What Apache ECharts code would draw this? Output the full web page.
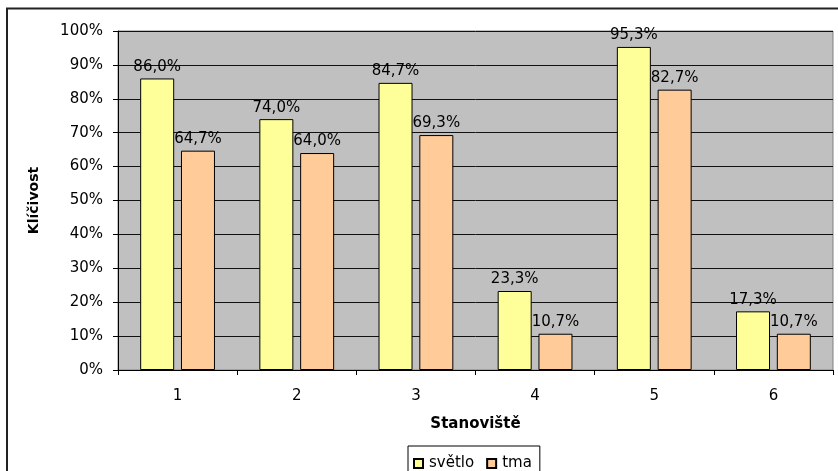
<!DOCTYPE html>
<html>
<head>
<meta charset="utf-8">
<script src="https://cdn.jsdelivr.net/npm/echarts@6/dist/echarts.min.js"></script>
<style>
  html, body { margin: 0; padding: 0; background: #fff; }
  #chart { width: 838px; height: 471px; }
</style>
</head>
<body>
<div id="chart"></div>
<script>
// Germination (Klíčivost) per site, light vs. dark treatment
const sites = ['1', '2', '3', '4', '5', '6'];
const svetlo = [86.0, 74.0, 84.7, 23.3, 95.3, 17.3];
const tma = [64.7, 64.0, 69.3, 10.7, 82.7, 10.7];
const yTicks = [0, 10, 20, 30, 40, 50, 60, 70, 80, 90, 100];

const FONT = 'DejaVu Sans';
const fmtPct = v => v.toFixed(1).replace('.', ',') + '%';

const chart = echarts.init(document.getElementById('chart'), null, { renderer: 'canvas' });

const labelStyle = {
  show: true,
  position: 'top',
  distance: 4,
  color: '#000',
  fontFamily: FONT,
  fontSize: 15,
  formatter: p => fmtPct(p.value)
};

chart.setOption({
  backgroundColor: '#fff',
  animation: false,
  textStyle: { fontFamily: FONT },
  graphic: [{
    type: 'rect',
    shape: { x: 7, y: 8.5, width: 900, height: 600 },
    style: { fill: 'none', stroke: '#222', lineWidth: 2 },
    z: 100
  }],
  grid: {
    left: 118, top: 31, right: 5, bottom: 101,
    show: true,
    backgroundColor: '#C0C0C0',
    borderColor: '#808080',
    borderWidth: 1
  },
  legend: {
    left: 408,
    top: 446,
    data: ['světlo', 'tma'],
    icon: 'rect',
    itemWidth: 9,
    itemHeight: 9,
    itemGap: 12,
    padding: [10, 8, 10, 5],
    borderColor: '#000',
    borderWidth: 1,
    textStyle: { fontFamily: FONT, fontSize: 15, color: '#000', padding: [0, 0, 0, 1] }
  },
  xAxis: {
    type: 'category',
    data: sites,
    name: 'Stanoviště',
    nameLocation: 'middle',
    nameGap: 47,
    nameTextStyle: { fontFamily: FONT, fontSize: 15, fontWeight: 'bold', color: '#000' },
    axisLine: { lineStyle: { color: '#000', width: 1 } },
    axisTick: { show: true, alignWithLabel: false, length: 5, lineStyle: { color: '#000' } },
    axisLabel: { fontFamily: FONT, fontSize: 15, color: '#000', margin: 19 },
    splitLine: { show: false }
  },
  yAxis: {
    type: 'value',
    min: yTicks[0],
    max: yTicks[yTicks.length - 1],
    interval: yTicks[1] - yTicks[0],
    name: 'Klíčivost',
    nameLocation: 'middle',
    nameGap: 77,
    nameRotate: 90,
    nameTextStyle: { fontFamily: FONT, fontSize: 14, fontWeight: 'bold', color: '#000' },
    axisLine: { show: true, lineStyle: { color: '#000', width: 1 } },
    axisTick: { show: true, length: 5, lineStyle: { color: '#000' } },
    axisLabel: { fontFamily: FONT, fontSize: 15, color: '#000', margin: 15, formatter: v => v + '%' },
    splitLine: { show: true, lineStyle: { color: '#111', width: 1 } }
  },
  series: [
    {
      name: 'světlo',
      type: 'bar',
      data: svetlo,
      barWidth: 34,
      barGap: '20%',
      itemStyle: { color: '#FFFF99', borderColor: '#000', borderWidth: 1 },
      label: labelStyle
    },
    {
      name: 'tma',
      type: 'bar',
      data: tma,
      barWidth: 34,
      itemStyle: { color: '#FFCC99', borderColor: '#000', borderWidth: 1 },
      label: labelStyle
    }
  ]
});
</script>
</body>
</html>
